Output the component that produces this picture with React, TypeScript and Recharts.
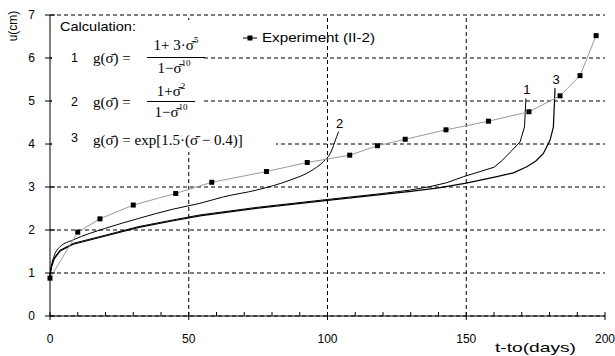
import React from "react";
import { LineChart, Line, XAxis, YAxis, CartesianGrid, ReferenceLine } from "recharts";

const expDays = [0, 10, 18, 30, 45.3, 58.3, 78, 92.7, 108, 118, 128, 142.7, 158, 172.6, 183.8, 191, 196.8];
const expU = [0.88, 1.95, 2.26, 2.58, 2.85, 3.11, 3.36, 3.57, 3.74, 3.96, 4.11, 4.33, 4.53, 4.75, 5.12, 5.59, 6.52];

const c1Days = [0, 0.5, 1.5, 3.6, 8.4, 20, 32, 44, 54, 75, 100, 120, 130, 137, 143, 149, 155, 160, 163, 166, 169.4, 171, 171.5];
const c1U = [0.95, 1.15, 1.35, 1.53, 1.69, 1.88, 2.08, 2.23, 2.35, 2.53, 2.71, 2.85, 2.93, 3.01, 3.1, 3.24, 3.36, 3.46, 3.62, 3.82, 4.05, 4.4, 5.06];

const c2Days = [0, 0.5, 1.5, 3.6, 8.4, 20, 32, 44, 54, 62.5, 74.5, 86.5, 93.7, 98.5, 101, 103.3, 104];
const c2U = [0.95, 1.17, 1.4, 1.61, 1.77, 2.04, 2.27, 2.48, 2.62, 2.77, 2.93, 3.16, 3.36, 3.59, 3.78, 4.17, 4.29];

const c3Days = [0, 0.5, 1.5, 3.6, 8.4, 20, 32, 44, 54, 75, 100, 120, 130, 140, 150, 161, 167, 171.8, 175, 177.8, 180.2, 181.4, 182];
const c3U = [0.93, 1.13, 1.33, 1.51, 1.67, 1.86, 2.06, 2.21, 2.33, 2.51, 2.69, 2.83, 2.9, 2.98, 3.09, 3.24, 3.33, 3.47, 3.6, 3.78, 4.09, 4.4, 5.3];

const xTicks = [0, 10, 20, 30, 40, 50, 60, 70, 80, 90, 100, 110, 120, 130, 140, 150, 160, 170, 180, 190, 200];
const yTicks = [0, 1, 2, 3, 4, 5, 6, 7];
const gridDays = [50, 100, 150];

const zip = (xs: number[], ys: number[]) => xs.map((x, i) => ({ x, u: ys[i] }));

const AXIS_FONT = "Liberation Sans, Arial, sans-serif";
const MATH_FONT = "Liberation Serif, Times New Roman, serif";

function XTick({ x, y, payload }: any) {
  const major = payload.value % 50 === 0;
  return (
    <g>
      <line x1={x} x2={x} y1={y - 4} y2={major ? y + 4 : y} stroke="#000" />
      {major && (
        <text x={x} y={y + 27} textAnchor="middle" fontSize={12} fontFamily={AXIS_FONT} fill="#000">
          {payload.value}
        </text>
      )}
    </g>
  );
}

function YTick({ x, y, payload }: any) {
  return (
    <g>
      <line x1={x - 5} x2={x + 5} y1={y} y2={y} stroke="#000" />
      <text x={x - 15} y={y + 4} textAnchor="end" fontSize={12} fontFamily={AXIS_FONT} fill="#000">
        {payload.value}
      </text>
    </g>
  );
}

const squareDot = (p: any) => (
  <rect key={p.index} x={p.cx - 2.5} y={p.cy - 2.5} width={5} height={5} fill="#000" />
);

const endLabel = (name: string, n: number) => (p: any) =>
  p.index === n - 1 ? (
    <text key={name} x={p.x + 1} y={p.y - 4} textAnchor="middle" fontSize={13} fontFamily={AXIS_FONT} fill="#000">
      {name}
    </text>
  ) : null;

const sup = (s: string) => (
  <tspan dy={-7} fontSize={9}>
    {s}
  </tspan>
);

function Overlay() {
  return (
    <svg width={615} height={356} style={{ position: "absolute", left: 0, top: 0, pointerEvents: "none" }}>
      <text transform="translate(17,26) rotate(-90)" textAnchor="middle" fontSize={12} fontFamily={AXIS_FONT}>
        u(cm)
      </text>
      <text x={495} y={352} fontSize={13} fontFamily={AXIS_FONT} textLength={81} lengthAdjust="spacingAndGlyphs">
        t-to(days)
      </text>

      <rect x={52} y={20} width={152} height={132} fill="#fff" />
      <rect x={52} y={132} width={224} height={20} fill="#fff" />
      <text x={60} y={31} fontSize={13} fontFamily={AXIS_FONT} textLength={76} lengthAdjust="spacingAndGlyphs">
        Calculation:
      </text>

      <g fontFamily={MATH_FONT} fontSize={15} fill="#000">
        <text x={71} y={62} fontSize={12.5} fontFamily={AXIS_FONT}>1</text>
        <text x={93} y={63}>g(σ̄) =</text>
        <text x={176} y={50} textAnchor="middle">1+ 3·σ̄{sup("5")}</text>
        <line x1={147} x2={205} y1={57.5} y2={57.5} stroke="#000" />
        <text x={174} y={73} textAnchor="middle">1−σ̄{sup("10")}</text>

        <text x={71} y={106} fontSize={12.5} fontFamily={AXIS_FONT}>2</text>
        <text x={93} y={107}>g(σ̄) =</text>
        <text x={171} y={96} textAnchor="middle">1+σ̄{sup("2")}</text>
        <line x1={147} x2={195} y1={101.5} y2={101.5} stroke="#000" />
        <text x={171} y={117} textAnchor="middle">1−σ̄{sup("10")}</text>

        <text x={71} y={142} fontSize={12.5} fontFamily={AXIS_FONT}>3</text>
        <text x={93} y={145}>g(σ̄) = exp[1.5·(σ̄ − 0.4)]</text>
      </g>

      <line x1={243} x2={257} y1={38} y2={38} stroke="#000" />
      <rect x={247.5} y={35.5} width={5} height={5} fill="#000" />
      <text x={262} y={42} fontSize={13} fontFamily={AXIS_FONT} textLength={113} lengthAdjust="spacingAndGlyphs">
        Experiment (II-2)
      </text>
    </svg>
  );
}

export default function App() {
  return (
    <div style={{ position: "relative", width: 615, height: 356, background: "#fff" }}>
      <style>{"body{margin:0}"}</style>
      <LineChart width={615} height={356} margin={{ top: 15, right: 10, left: 0, bottom: 0 }}>
        <CartesianGrid vertical={false} stroke="#000" strokeDasharray="4 3" />
        {gridDays.map((d) => (
          <ReferenceLine key={d} x={d} stroke="#000" strokeDasharray="4 3" />
        ))}
        <XAxis
          type="number"
          dataKey="x"
          domain={[0, 200]}
          ticks={xTicks}
          interval={0}
          tickSize={0}
          tickMargin={0}
          tick={<XTick />}
          height={40}
          stroke="#000"
          allowDuplicatedCategory={false}
        />
        <YAxis
          type="number"
          domain={[0, 7]}
          ticks={yTicks}
          interval={0}
          tickSize={0}
          tickMargin={0}
          tick={<YTick />}
          width={50}
          stroke="#000"
        />
        <Line
          data={zip(c1Days, c1U)}
          dataKey="u"
          type="linear"
          stroke="#000"
          strokeWidth={1}
          dot={false}
          label={endLabel("1", c1Days.length)}
          isAnimationActive={false}
        />
        <Line
          data={zip(c3Days, c3U)}
          dataKey="u"
          type="linear"
          stroke="#000"
          strokeWidth={1.2}
          dot={false}
          label={endLabel("3", c3Days.length)}
          isAnimationActive={false}
        />
        <Line
          data={zip(c2Days, c2U)}
          dataKey="u"
          type="monotone"
          stroke="#000"
          strokeWidth={1}
          dot={false}
          label={endLabel("2", c2Days.length)}
          isAnimationActive={false}
        />
        <Line
          data={zip(expDays, expU)}
          dataKey="u"
          type="linear"
          stroke="#9a9a9a"
          strokeWidth={1}
          dot={squareDot}
          isAnimationActive={false}
        />
      </LineChart>
      <Overlay />
    </div>
  );
}
